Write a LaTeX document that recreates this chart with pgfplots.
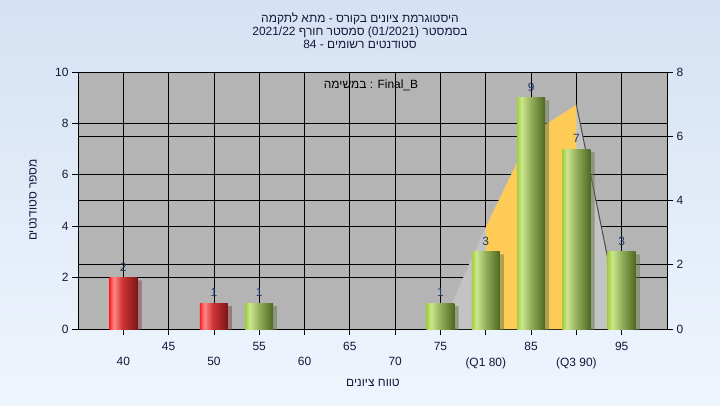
\documentclass[border=0pt]{standalone}
\usepackage{fontspec}
\setmainfont{Liberation Sans}
\newfontfamily\hebfont[Script=Hebrew]{Liberation Sans}
\usepackage{pgfplots}
\pgfplotsset{compat=1.18}
\usetikzlibrary{shadows}
\TeXXeTstate=1
\definecolor{bgtop}{HTML}{D5E2F3}
\definecolor{bgbot}{HTML}{EFF5FD}
\definecolor{plotbg}{HTML}{B4B4B4}
\definecolor{polyg}{HTML}{C3C3C3}
\definecolor{yell}{HTML}{FFCB57}
\definecolor{txt}{HTML}{16163A}
\definecolor{lbl}{HTML}{1E3A66}
\definecolor{rA}{HTML}{FF1E1E}
\definecolor{rB}{HTML}{FF8A8A}
\definecolor{rC}{HTML}{D03434}
\definecolor{rD}{HTML}{7A1616}
\definecolor{gA}{HTML}{A2CE42}
\definecolor{gB}{HTML}{CBE78E}
\definecolor{gC}{HTML}{93AE5A}
\definecolor{gD}{HTML}{4E6822}
\pgfdeclarehorizontalshading{redbar}{100bp}{color(0bp)=(rA); color(25bp)=(rA); color(33bp)=(rB); color(48bp)=(rC); color(75bp)=(rD); color(100bp)=(rD)}
\pgfdeclarehorizontalshading{greenbar}{100bp}{color(0bp)=(gA); color(25bp)=(gA); color(33bp)=(gB); color(50bp)=(gC); color(75bp)=(gD); color(100bp)=(gD)}
\newcommand{\fs}{\fontsize{12}{13}\selectfont}
\pgfplotsset{
  mybar/.style={ybar, bar width=28bp, bar shift=0pt, draw=none, shading=#1,
    drop shadow={shadow xshift=4bp, shadow yshift=-3bp, opacity=0.3},
    nodes near coords, nodes near coords style={text=lbl, font=\fs, yshift=3bp}},
}
\begin{document}
\begin{tikzpicture}[x=1bp,y=1bp]
\shade[top color=bgtop, bottom color=bgbot] (-78,-76) rectangle (642,329);
\begin{axis}[
  at={(0,0)}, anchor=south west,
  scale only axis, width=589bp, height=257bp,
  xmin=35, xmax=100, ymin=0, ymax=10,
  axis background/.style={fill=plotbg},
  /pgf/number format/assume math mode=true,
  xtick={45,55,...,95},
  extra x ticks={40,50,60,70,80,90},
  extra x tick labels={40,50,60,70,(Q1 80),(Q3 90)},
  extra x tick style={grid=major, tick label style={yshift=-15bp}},
  ytick={0,2,...,10},
  extra y ticks={2.5,5,7.5},
  extra y tick labels={},
  extra y tick style={grid=major, major tick length=0pt},
  grid=major,
  major grid style={black, line width=0.8bp},
  axis line style={black, line width=0.8bp},
  tick style={black, line width=0.8bp},
  tick align=outside,
  xtick pos=bottom, ytick pos=left,
  major tick length=6bp,
  xticklabel style={yshift=-4bp},
  tick label style={font=\fs, text=txt},
]
\addplot[fill=polyg, draw=none] coordinates {(75,0) (80,3.97) (85,7.6) (90,8.72) (95,0.1)} \closedcycle;
\addplot[fill=yell, draw=none] coordinates {(80,0) (80,3.97) (85,7.6) (90,8.72) (90,0)} \closedcycle;
\addplot[draw=black!70, line width=1bp] coordinates {(90,8.72) (95,0.1)};
\addplot[mybar=redbar] coordinates {(40,2)};
\addplot[mybar=redbar] coordinates {(50,1)};
\addplot[mybar=greenbar] coordinates {(55,1)};
\addplot[mybar=greenbar] coordinates {(75,1)};
\addplot[mybar=greenbar] coordinates {(80,3)};
\addplot[mybar=greenbar] coordinates {(85,9)};
\addplot[mybar=greenbar] coordinates {(90,7)};
\addplot[mybar=greenbar] coordinates {(95,3)};
\end{axis}
\begin{axis}[
  at={(0,0)}, anchor=south west,
  scale only axis, width=589bp, height=257bp,
  xmin=35, xmax=100, ymin=0, ymax=8,
  axis x line=none, axis y line*=right,
  /pgf/number format/assume math mode=true,
  ytick={0,2,...,8},
  axis line style={black, line width=0.8bp},
  tick style={black, line width=0.8bp},
  tick align=outside, major tick length=6bp,
  tick label style={font=\fs, text=txt},
]
\end{axis}
\node[text=txt, font=\fs] at (282,310.5) {\hebfont\beginR היסטוגרמת ציונים בקורס - מתא לתקמה\endR};
\node[text=txt, font=\fs] at (282,297) {\hebfont\beginR בסמסטר \beginL(01/2021)\endL{} סמסטר חורף \beginL2021/22\endL\endR};
\node[text=txt, font=\fs] at (282,284.5) {\hebfont\beginR סטודנטים רשומים - \beginL84\endL\endR};
\node[text=txt, font=\fs] at (295,-54) {\hebfont\beginR טווח ציונים\endR};
\node[text=txt, font=\fs, rotate=90] at (-45,129) {\hebfont\beginR מספר סטודנטים\endR};
\node[text=black, font=\fs] at (293,244) {\hebfont\beginR במשימה\endR{} : Final\_B};
\end{tikzpicture}
\end{document}
